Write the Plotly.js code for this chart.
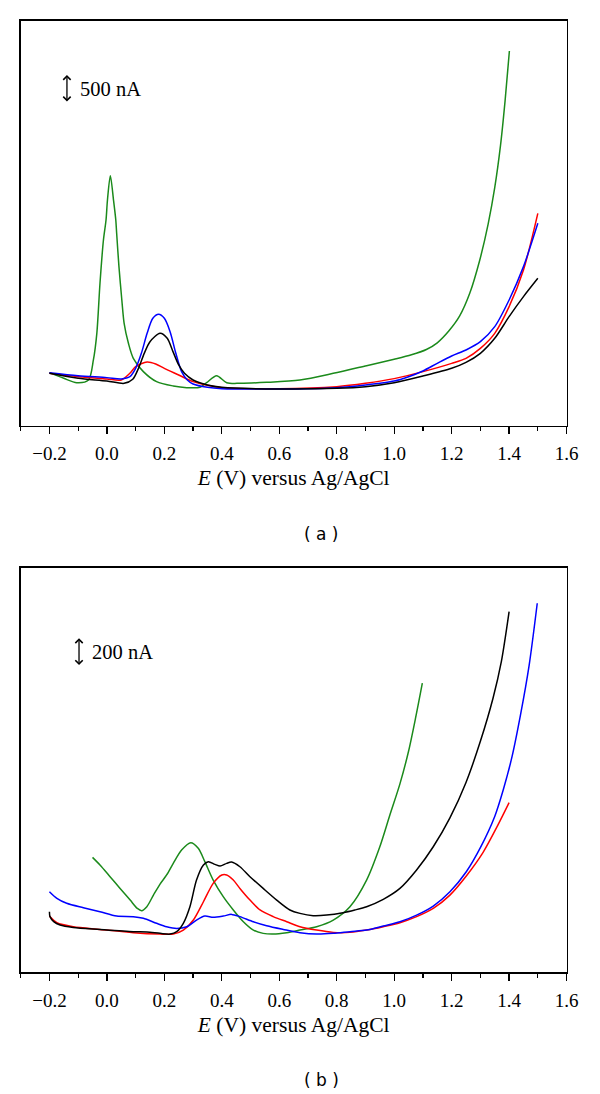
<!DOCTYPE html>
<html>
<head>
<meta charset="utf-8">
<script src="https://cdn.plot.ly/plotly-3.0.1.min.js"></script>
<style>html,body{margin:0;padding:0;background:#fff;}#chart{width:600px;height:1094px;}</style>
</head>
<body>
<div id="chart"></div>
<script>
// ---------- Panel (a): potential (V vs Ag/AgCl) and current (nA, arbitrary offset) ----------
const aGreenE = [-0.2, -0.15, -0.105, -0.064, -0.047, -0.035, -0.024, -0.012, -0.003, 0.002, 0.012, 0.023, 0.031, 0.034, 0.042, 0.052, 0.06, 0.075, 0.092, 0.127, 0.173, 0.231, 0.278, 0.324, 0.347, 0.382, 0.417, 0.463, 0.556, 0.672, 0.788, 0.904, 1.0, 1.06, 1.112, 1.15, 1.19, 1.228, 1.263, 1.298, 1.327, 1.35, 1.37, 1.386, 1.401];
const aGreenI = [947, 846, 768, 816, 1173, 1649, 2542, 3316, 3673, 4030, 4465, 4030, 3673, 3435, 2840, 2244, 1828, 1471, 1203, 965, 786, 709, 679, 685, 768, 893, 768, 756, 774, 816, 935, 1072, 1186, 1265, 1360, 1480, 1690, 1960, 2363, 2959, 3600, 4250, 5000, 5800, 6691];

const aBlueE = [-0.2, -0.1, 0.0, 0.05, 0.08, 0.1, 0.12, 0.14, 0.16, 0.18, 0.2, 0.22, 0.24, 0.26, 0.28, 0.3, 0.35, 0.4, 0.6, 0.8, 0.9, 1.0, 1.05, 1.1, 1.15, 1.2, 1.25, 1.3, 1.35, 1.4, 1.45, 1.5];
const aBlueI = [947, 893, 858, 834, 875, 1024, 1292, 1649, 1917, 1988, 1917, 1679, 1292, 965, 816, 745, 685, 661, 655, 679, 727, 798, 875, 977, 1113, 1244, 1352, 1500, 1768, 2244, 2840, 3613];

const aRedE = [-0.2, -0.1, 0.0, 0.05, 0.08, 0.1, 0.14, 0.17, 0.2, 0.25, 0.3, 0.35, 0.4, 0.6, 0.8, 0.9, 1.0, 1.1, 1.2, 1.25, 1.3, 1.35, 1.4, 1.45, 1.5];
const aRedI = [935, 875, 834, 816, 935, 1054, 1137, 1102, 1024, 905, 786, 721, 679, 661, 697, 756, 840, 965, 1113, 1203, 1381, 1649, 2125, 2780, 3792];

const aBlackE = [-0.2, -0.1, 0.0, 0.06, 0.09, 0.11, 0.13, 0.15, 0.185, 0.21, 0.23, 0.25, 0.27, 0.3, 0.35, 0.4, 0.6, 0.8, 0.9, 1.0, 1.1, 1.2, 1.25, 1.3, 1.35, 1.4, 1.45, 1.5];
const aBlackI = [935, 846, 798, 756, 828, 1024, 1292, 1500, 1649, 1560, 1322, 1084, 935, 816, 727, 685, 655, 667, 697, 768, 887, 1024, 1130, 1292, 1560, 1947, 2304, 2631];

// ---------- Panel (b) ----------
const bGreenE = [-0.05, -0.024, 0.011, 0.046, 0.081, 0.106, 0.121, 0.139, 0.162, 0.185, 0.208, 0.231, 0.26, 0.292, 0.318, 0.341, 0.37, 0.405, 0.44, 0.475, 0.51, 0.544, 0.579, 0.626, 0.672, 0.73, 0.788, 0.846, 0.904, 0.95, 0.985, 1.02, 1.05, 1.075, 1.098];
const bGreenI = [811, 757, 675, 592, 510, 451, 435, 463, 545, 623, 687, 769, 863, 915, 875, 781, 651, 534, 440, 357, 298, 275, 270, 280, 298, 322, 369, 463, 651, 886, 1110, 1330, 1560, 1800, 2040];

const bBlackE = [-0.2, -0.198, -0.185, -0.163, -0.117, -0.024, 0.092, 0.139, 0.185, 0.22, 0.243, 0.266, 0.289, 0.312, 0.336, 0.353, 0.376, 0.394, 0.417, 0.434, 0.463, 0.498, 0.544, 0.591, 0.637, 0.672, 0.718, 0.765, 0.822, 0.863, 0.904, 0.962, 1.02, 1.078, 1.136, 1.194, 1.25, 1.3, 1.344, 1.373, 1.4];
const bBlackI = [428, 393, 358, 334, 317, 303, 287, 284, 275, 270, 287, 346, 463, 651, 757, 781, 762, 750, 769, 778, 745, 675, 592, 510, 440, 416, 400, 404, 421, 440, 463, 515, 592, 722, 886, 1090, 1340, 1630, 1934, 2192, 2545];

const bRedE = [-0.2, -0.174, -0.117, -0.024, 0.092, 0.185, 0.231, 0.266, 0.301, 0.336, 0.37, 0.4, 0.417, 0.44, 0.463, 0.498, 0.533, 0.579, 0.626, 0.672, 0.73, 0.788, 0.846, 0.904, 0.962, 1.02, 1.078, 1.136, 1.194, 1.251, 1.309, 1.36, 1.4];
const bRedI = [397, 350, 322, 303, 280, 270, 270, 298, 369, 498, 628, 687, 687, 651, 592, 510, 440, 393, 357, 322, 298, 282, 282, 298, 322, 350, 393, 451, 545, 680, 845, 1035, 1197];

const bBlueE = [-0.2, -0.174, -0.14, -0.082, -0.024, 0.034, 0.092, 0.127, 0.173, 0.208, 0.243, 0.278, 0.312, 0.341, 0.37, 0.405, 0.434, 0.463, 0.51, 0.556, 0.614, 0.672, 0.73, 0.788, 0.846, 0.904, 0.962, 1.02, 1.078, 1.136, 1.194, 1.251, 1.3, 1.35, 1.38, 1.41, 1.44, 1.47, 1.498];
const bBlueI = [569, 522, 487, 456, 428, 397, 393, 381, 346, 322, 310, 322, 369, 397, 388, 397, 409, 393, 357, 329, 303, 280, 270, 275, 287, 298, 327, 357, 404, 468, 569, 710, 880, 1100, 1290, 1520, 1820, 2170, 2604];

// Scale bars
const scaleA = {label: '500 nA', span: 500};
const scaleB = {label: '200 nA', span: 200};
const xTitleText = '<i>E</i> (V) versus Ag/AgCl';
const panelLabels = ['( a )', '( b )'];

const GREEN = '#1b8a1b', BLUE = '#0000ff', RED = '#ff0000', BLACK = '#000000';

function tr(x, y, color, xa, ya) {
  return {x: x, y: y, type: 'scatter', mode: 'lines', xaxis: xa, yaxis: ya,
    line: {color: color, width: 1.5, shape: 'spline', smoothing: 0.8}, hoverinfo: 'skip', showlegend: false};
}

const data = [
  tr(aGreenE, aGreenI, GREEN, 'x', 'y'),
  tr(aRedE, aRedI, RED, 'x', 'y'),
  tr(aBlueE, aBlueI, BLUE, 'x', 'y'),
  tr(aBlackE, aBlackI, BLACK, 'x', 'y'),
  tr(bGreenE, bGreenI, GREEN, 'x2', 'y2'),
  tr(bRedE, bRedI, RED, 'x2', 'y2'),
  tr(bBlueE, bBlueI, BLUE, 'x2', 'y2'),
  tr(bBlackE, bBlackI, BLACK, 'x2', 'y2')
];

const serif = 'Liberation Serif';
const sans = 'DejaVu Sans';

function xax(anchor) {
  return {
    anchor: anchor, domain: [0.0345, 0.9445], range: [-0.3, 1.6005],
    showline: true, linecolor: '#000', linewidth: 1.5, mirror: true,
    showgrid: false, zeroline: false,
    ticks: 'outside', ticklen: 7, tickwidth: 1.3, tickcolor: '#000',
    tick0: 0, dtick: 0.2, tickformat: '.1f', ticklabelstandoff: 3,
    minor: {dtick: 0.1, ticks: 'outside', ticklen: 4, tickwidth: 1.2, tickcolor: '#000', showgrid: false},
    tickfont: {family: serif, size: 19, color: '#000'},
    title: {text: xTitleText, font: {family: serif, size: 21.5, color: '#000'}, standoff: 7}
  };
}
function yax(anchor, domain, range) {
  return {
    anchor: anchor, domain: domain, range: range,
    showline: true, linecolor: '#000', linewidth: 1.5, mirror: true,
    showgrid: false, zeroline: false, ticks: '', showticklabels: false
  };
}

function scaleBar(xr, yr, xPos, yTop, span, label, textX) {
  return [
    {xref: xr, yref: yr, axref: xr, ayref: yr, x: xPos, y: yTop, ax: xPos, ay: yTop - span,
     text: '', showarrow: true, arrowhead: 4, startarrowhead: 4, arrowside: 'end+start',
     arrowsize: 1.1, startarrowsize: 1.1, arrowwidth: 1.3, arrowcolor: '#000', standoff: 0, startstandoff: 0},
    {xref: xr, yref: yr, x: textX, y: yTop - span / 2, text: label, showarrow: false,
     xanchor: 'left', yanchor: 'middle', font: {family: serif, size: 20.5, color: '#000'}}
  ];
}

const annotations = [].concat(
  scaleBar('x', 'y', -0.139, 6262, scaleA.span, scaleA.label, -0.1),
  scaleBar('x2', 'y2', -0.097, 2357, scaleB.span, scaleB.label, -0.06),
  [
    {xref: 'paper', yref: 'paper', x: 0.535, y: 1 - 534 / 1094, text: panelLabels[0], showarrow: false,
     xanchor: 'center', yanchor: 'middle', font: {family: sans, size: 17, color: '#000'}},
    {xref: 'paper', yref: 'paper', x: 0.535, y: 1 - 1080 / 1094, text: panelLabels[1], showarrow: false,
     xanchor: 'center', yanchor: 'middle', font: {family: sans, size: 17, color: '#000'}}
  ]
);

const layout = {
  width: 600, height: 1094,
  margin: {l: 0, r: 0, t: 0, b: 0},
  paper_bgcolor: '#fff', plot_bgcolor: '#fff',
  showlegend: false,
  font: {family: serif, color: '#000'},
  xaxis: xax('y'),
  yaxis: yax('x', [0.6109, 0.9811], [0, 7232]),
  xaxis2: xax('y2'),
  yaxis2: yax('x2', [0.1112, 0.4811], [0, 2855]),
  annotations: annotations
};

Plotly.newPlot('chart', data, layout, {displayModeBar: false, staticPlot: true});
</script>
</body>
</html>
